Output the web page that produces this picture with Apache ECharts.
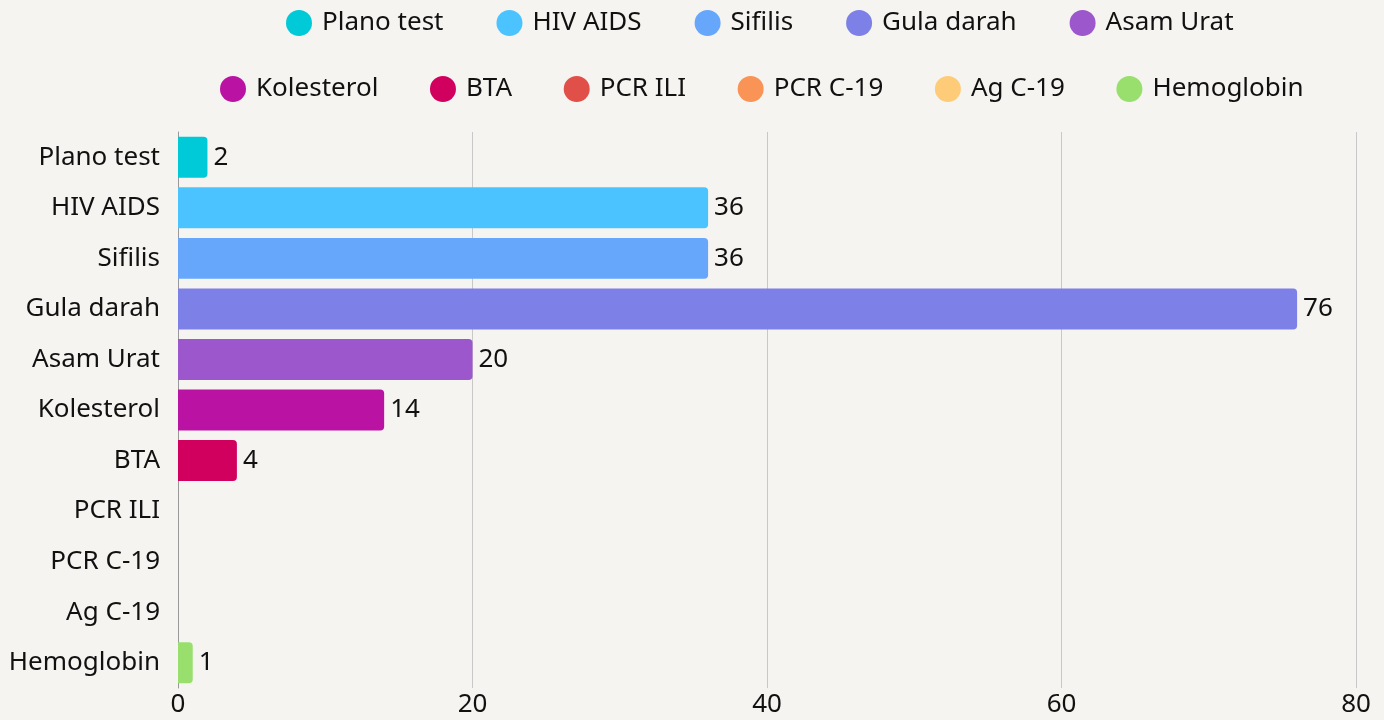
<!DOCTYPE html>
<html>
<head>
<meta charset="utf-8">
<script src="https://cdn.jsdelivr.net/npm/echarts@6/dist/echarts.min.js"></script>
<style>
html,body{margin:0;padding:0;background:#f6f4f1;}
#chart{width:1384px;height:720px;}
</style>
</head>
<body>
<div id="chart"></div>
<script>
const categories = ['Plano test','HIV AIDS','Sifilis','Gula darah','Asam Urat','Kolesterol','BTA','PCR ILI','PCR C-19','Ag C-19','Hemoglobin'];
const values = [2, 36, 36, 76, 20, 14, 4, 0, 0, 0, 1];
const colors = ['#00C9D8','#4BC3FE','#66A7FB','#7D80E6','#9B57CB','#BA13A4','#D1005F','#E05048','#F99356','#FECB78','#98DF6D'];
const xTicks = [0, 20, 40, 60, 80];

const FONT = '"Noto Sans", "Open Sans", sans-serif';
const FS = 26;
const series = categories.map((name, i) => ({
  name: name,
  type: 'bar',
  stack: 'all',
  barWidth: '81%',
  itemStyle: { color: colors[i], borderRadius: [0, 4, 4, 0] },
  label: {
    show: values[i] > 0,
    position: 'right',
    distance: 6,
    color: '#111',
    fontFamily: FONT,
    fontSize: FS,
    formatter: (p) => p.value === '-' || p.value == null ? '' : String(p.value)
  },
  data: categories.map((c, j) => (j === i ? (values[i] > 0 ? values[i] : '-') : '-'))
}));

const legendCommon = {
  icon: 'circle',
  itemWidth: 26,
  itemHeight: 26,
  textStyle: { fontFamily: FONT, fontSize: FS, color: '#111', padding: [0, 0, 0, 5] },
  padding: 0
};

const chart = echarts.init(document.getElementById('chart'));
chart.setOption({
  backgroundColor: '#f6f4f1',
  animation: false,
  legend: [
    Object.assign({}, legendCommon, { left: 286, top: 10, itemGap: 53, data: categories.slice(0, 5) }),
    Object.assign({}, legendCommon, { left: 220, top: 76, itemGap: 51.6, data: categories.slice(5) })
  ],
  grid: { left: 178, right: 28, top: 132, bottom: 32, containLabel: false },
  xAxis: {
    type: 'value',
    min: 0,
    max: 80,
    interval: 20,
    axisLine: { show: false },
    axisTick: { show: false },
    splitLine: { show: true, lineStyle: { color: '#c8c8c8', width: 1 } },
    axisLabel: {
      fontFamily: FONT, fontSize: FS, color: '#111', margin: 4,
      formatter: (v) => xTicks.includes(v) ? String(v) : ''
    }
  },
  yAxis: {
    type: 'category',
    inverse: true,
    data: categories,
    axisLine: { show: true, lineStyle: { color: '#999', width: 1 } },
    axisTick: { show: false },
    axisLabel: { fontFamily: FONT, fontSize: FS, color: '#111', margin: 18 }
  },
  series: series
});
</script>
</body>
</html>
